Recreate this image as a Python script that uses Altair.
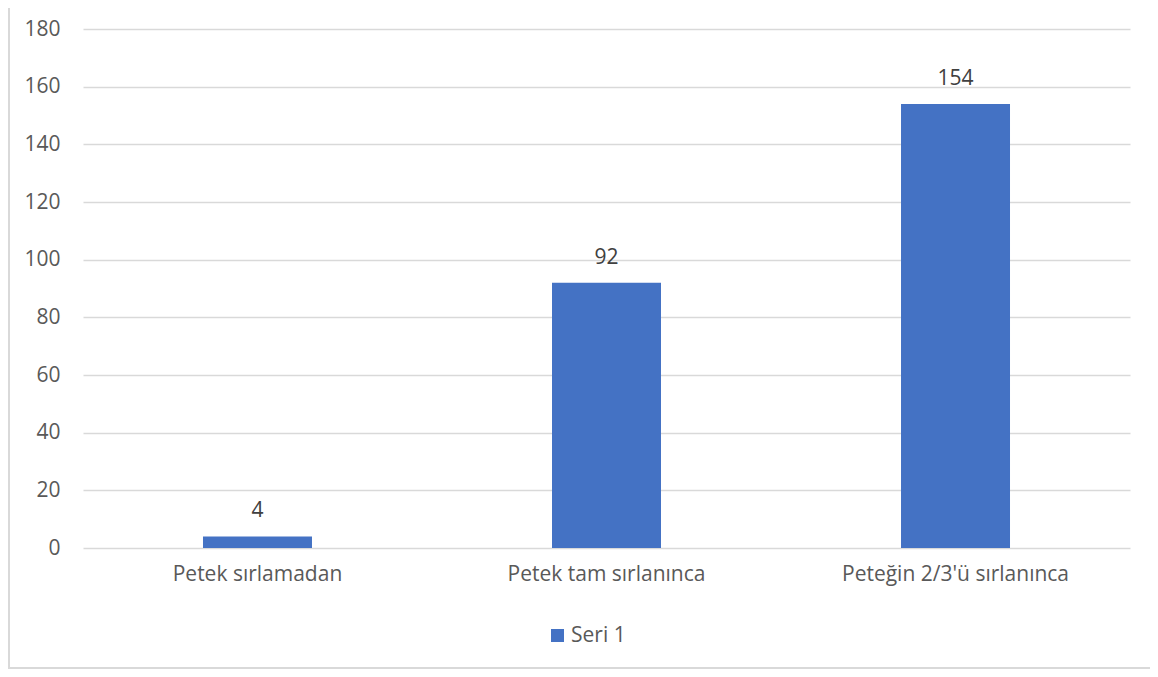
import altair as alt
import pandas as pd

categories = ["Petek sırlamadan", "Petek tam sırlanınca", "Peteğin 2/3'ü sırlanınca"]
values = [4, 92, 154]
series = ["Seri 1", "Seri 1", "Seri 1"]

df = pd.DataFrame({"cat": categories, "val": values, "series": series})

FONT = "Open Sans"
FS = 21
W, H = 1047, 519

x = alt.X("cat:N", sort=categories, title=None,
          scale=alt.Scale(paddingInner=0.6877, paddingOuter=0.3438),
          axis=alt.Axis(labelAngle=0, ticks=False, domain=False, grid=False,
                        labelFontSize=FS, labelColor="#595959", labelFont=FONT,
                        labelPadding=15, labelLimit=0))
y = alt.Y("val:Q", title=None,
          scale=alt.Scale(domain=[0, 180], nice=False),
          axis=alt.Axis(values=list(range(0, 181, 20)), ticks=False, domain=False,
                        gridColor="#D9D9D9", gridWidth=1.3,
                        labelFontSize=FS, labelColor="#595959", labelFont=FONT,
                        labelPadding=23))

bars = alt.Chart(df).mark_bar(color="#4472C4").encode(
    x=x, y=y,
    color=alt.Color("series:N", title=None,
                    scale=alt.Scale(range=["#4472C4"]),
                    legend=alt.Legend(orient="none", legendX=464, legendY=596,
                                      symbolType="square", symbolSize=169,
                                      symbolStrokeWidth=0, labelFontSize=FS,
                                      labelColor="#595959", labelFont=FONT,
                                      labelOffset=3)),
)

labels = alt.Chart(df).mark_text(fontSize=FS, font=FONT, color="#404040",
                                 baseline="alphabetic", dy=-19).encode(
    x=alt.X("cat:N", sort=categories), y="val:Q", text="val:Q")

border = alt.Chart(pd.DataFrame({"a": [0]})).mark_rule(color="#D9D9D9", strokeWidth=2).encode(
    x=alt.value(-74), x2=alt.value(-74), y=alt.value(-30), y2=alt.value(639))
border2 = alt.Chart(pd.DataFrame({"a": [0]})).mark_rule(color="#D9D9D9", strokeWidth=2).encode(
    x=alt.value(-75), x2=alt.value(1080), y=alt.value(639), y2=alt.value(639))

chart = alt.layer(bars, labels, border, border2).properties(
    width=W, height=H,
    autosize=alt.AutoSizeParams(type="none"),
    padding={"left": 75, "top": 21, "right": 20, "bottom": 121},
).configure(background="white").configure_view(stroke=None)

chart.save("out.html", embed_options={"renderer": "svg", "actions": False})
